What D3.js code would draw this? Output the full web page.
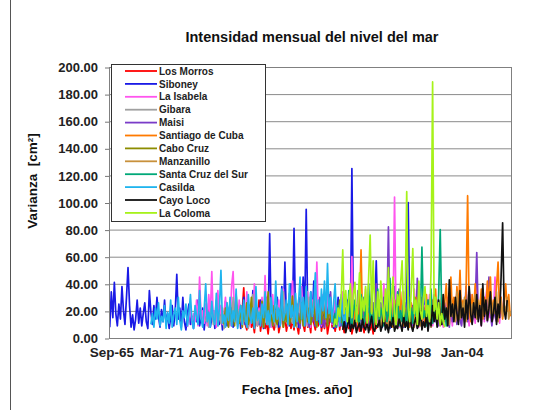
<!DOCTYPE html>
<html>
<head>
<meta charset="utf-8">
<script src="https://cdn.jsdelivr.net/npm/d3@7"></script>
<style>
body{margin:0;background:#fff;}
text{font-family:"Liberation Sans",Arial,sans-serif;}
</style>
</head>
<body>
<div id="chart"></div>
<script>
// series, in Excel drawing order (last one ends up on top)
const seriesNames = ["Los Morros","Siboney","La Isabela","Gibara","Maisi","Santiago de Cuba",
  "Cabo Cruz","Manzanillo","Santa Cruz del Sur","Casilda","Cayo Loco","La Coloma"];
// first month of each series, values every 2 months
const seriesStart = ["1980-01","1965-07","1974-01","1976-01","1986-01","1992-01",
  "1978-01","1995-01","1990-01","1970-01","1991-01","1990-01"];
const STEP = 2;

const losMorros = [
 20, 37, 10, 6, 15, 24, 8, 12, 4, 18, 9, 28,
 5, 14, 22, 7, 11, 3, 16, 30, 9, 6, 13, 20,
 4, 10, 25, 8, 17, 5, 12, 33, 7, 14, 6, 21,
 9, 3, 15, 26, 10, 5, 19, 8, 12, 4, 23, 11,
 6, 16, 9, 29, 5, 13, 7, 18, 3, 10, 22, 8,
 14, 5, 11, 27, 6, 17, 9, 4, 20, 12, 7, 15,
 3, 9, 24, 6, 13, 5, 18, 10, 4, 14, 8, 21,
 6, 11, 3, 16, 7, 12];
const siboney = [
 8, 34, 15, 41, 18, 9, 25, 14, 38,
 20, 10, 30, 52, 24, 8, 17, 6, 14, 28, 11, 22,
 9, 18, 26, 12, 7, 35, 19, 10, 24, 14, 30, 16,
 8, 21, 12, 28, 10, 18, 7, 15, 24, 9, 20, 47,
 14, 22, 8, 30, 12, 6, 18, 25, 10, 16, 7, 20,
 12, 28, 9, 15, 22, 6, 18, 11, 26, 8, 14, 20,
 7, 16, 24, 10, 19, 6, 13, 27, 9, 17, 12, 22,
 8, 15, 26, 11, 20, 7, 14, 30, 10, 18, 9, 24,
 12, 35, 8, 16, 22, 10, 28, 14, 7, 19, 30, 11,
 77, 15, 9, 24, 12, 30, 8, 18, 38, 11, 56, 14,
 22, 9, 40, 16, 81, 12, 25, 8, 30, 14, 45, 18,
 95, 20, 10, 34, 15, 42, 9, 22, 12, 28, 8, 18,
 14, 26, 10, 32, 12, 20, 7, 24, 16, 30, 9, 18,
 12, 22, 8, 28, 15, 10, 125, 18, 9, 24, 14, 20,
 8, 16, 30, 12, 22, 9, 18, 35, 11, 20, 57, 14,
 10, 26, 8, 18, 32, 12, 20, 7, 24, 15, 38, 11,
 18, 9, 28, 14, 22, 8, 30, 100, 16, 10, 24, 12,
 20, 8, 26, 14, 10, 32, 12, 18, 7, 22, 15, 10];
const laIsabela = [
 8, 15, 22, 10, 18, 12, 28, 9, 45, 14, 20, 11,
 25, 9, 32, 16, 49, 12, 20, 8, 35, 15, 24, 10,
 18, 30, 12, 22, 9, 38, 49, 14, 20, 10, 28, 16,
 8, 24, 13, 34, 18, 9, 26, 12, 40, 15, 10, 22,
 14, 30, 9, 46, 17, 11, 25, 8, 32, 14, 20, 12,
 28, 10, 18, 36, 13, 22, 9, 30, 15, 42, 11, 20,
 12, 26, 9, 38, 16, 22, 10, 34, 14, 8, 28, 18,
 11, 56, 14, 24, 9, 32, 18, 12, 40, 15, 22, 10,
 18, 28, 12, 9, 24, 15, 34, 11, 20, 8, 26, 14,
 60, 12, 22, 9, 30, 15, 10, 26, 13, 36, 8, 18,
 14, 28, 10, 20, 32, 9, 16, 24, 11, 40, 13, 18,
 9, 22, 30, 12, 104, 15, 20, 8, 26, 13, 34, 10,
 18, 28, 11, 22, 9, 36, 14, 20, 8, 30, 12, 16,
 24, 10, 18, 32, 12, 9, 22, 15, 28, 10, 20, 13,
 8, 24, 16, 30, 11, 20, 9, 26, 14, 35, 12, 18,
 10, 22, 28, 13, 18, 9, 32, 15, 24, 11, 38, 14,
 20, 9, 26, 12, 30, 40, 15, 22, 10, 18, 45, 13,
 24, 11, 30, 16];
const gibara = [
 12, 20, 8, 16, 24, 10, 14, 28, 9, 18, 11, 22,
 7, 15, 26, 12, 19, 9, 30, 13, 17, 8, 21, 14,
 10, 25, 12, 18, 7, 22, 15, 32, 11, 16, 9, 20,
 13, 27, 8, 17, 23, 10, 14, 29, 12, 19, 8, 24,
 15, 10, 21, 34, 12, 18, 9, 26, 14, 11, 22, 16,
 8, 28, 13, 19, 10, 24, 15, 9, 30, 12, 17, 20];
const maisi = [
 10, 18, 7, 24, 13, 9, 20, 15, 8, 26, 12, 17,
 9, 22, 14, 30, 10, 16, 8, 25, 12, 19, 34, 11,
 15, 8, 20, 12, 27, 9, 17, 13, 22, 8, 30, 14,
 10, 24, 16, 9, 35, 12, 19, 8, 28, 14, 11, 22,
 9, 17, 26, 12, 40, 15, 10, 24, 13, 30, 9, 18,
 82, 14, 22, 10, 28, 16, 9, 36, 12, 20, 8, 26,
 14, 10, 30, 18, 9, 24, 12, 44, 15, 20, 9, 16,
 22, 11, 28, 14, 8, 20, 32, 12, 17, 9, 25, 13,
 10, 26, 15, 20, 8, 34, 12, 18, 24, 10, 30, 14,
 9, 22, 16, 38, 12, 20, 28, 11, 18, 24, 63, 15,
 20, 10, 32, 14, 26, 12, 45, 18, 9, 24, 16, 12];
const santiagoDeCuba = [
 12, 8, 20, 15, 9, 24, 65, 14, 10, 22, 8, 18,
 13, 26, 9, 17, 11, 30, 14, 8, 21, 12, 18, 9,
 24, 11, 16, 8, 28, 13, 20, 10, 34, 15, 9, 22,
 12, 18, 8, 26, 14, 10, 30, 16, 9, 20, 12, 24,
 10, 32, 15, 20, 9, 28, 14, 36, 11, 22, 18, 30,
 12, 26, 40, 15, 24, 45, 18, 30, 13, 38, 20, 50,
 16, 28, 14, 35, 105, 20, 12, 32, 18, 40, 15, 26,
 22, 36, 14, 30, 18, 42, 24, 45, 16, 28, 20, 38,
 56, 18, 30, 14, 26, 40, 20, 32, 16];
const caboCruz = [
 10, 22, 14, 8, 28, 12, 18, 9, 32, 15, 11, 24,
 8, 19, 13, 26, 10, 16, 30, 12, 9, 22, 14, 18,
 11, 27, 8, 20, 15, 34, 12, 17, 9, 24, 13, 10,
 21, 14, 29, 8, 18, 12, 25, 10, 16, 31, 13, 9,
 20, 15, 11, 26, 9, 18, 36, 12, 22, 10, 16, 28,
 13, 8, 24, 17, 11, 30, 14, 20, 9, 26, 12, 18,
 15, 10, 22, 13, 28, 11];
const manzanillo = [
 12, 8, 18, 10, 22, 14, 9, 16, 26, 11, 15, 8,
 20, 13, 10, 24, 12, 17, 9, 28, 14, 11, 19, 8,
 16, 22, 12, 9, 30, 15, 18, 10, 24, 13, 8, 20,
 14, 26, 11, 17, 9, 32, 15, 12, 22, 18, 10, 28,
 16, 24, 12, 34, 20, 14, 26, 18, 30, 12, 22, 38,
 15, 25, 19, 32, 14, 28, 21, 11, 36, 17, 24, 13,
 30, 20, 15, 26, 18, 34, 12, 22, 28, 16, 24, 19,
 30, 14, 20];
const santaCruzDelSur = [
 10, 18, 8, 24, 13, 30, 9, 16, 22, 11, 35, 14,
 8, 20, 28, 12, 17, 9, 32, 15, 10, 24, 13, 40,
 11, 19, 8, 26, 14, 36, 10, 22, 16, 9, 30, 12,
 18, 44, 13, 10, 25, 15, 34, 9, 20, 12, 28, 16,
 9, 38, 14, 22, 11, 30, 17, 10, 26, 13, 67, 15,
 20, 9, 28, 14, 36, 11, 18, 24, 10, 32, 80, 16,
 12, 22, 9, 14];
const casilda = [
 10, 18, 8, 22, 14, 26, 9, 16, 12, 24, 7, 19,
 11, 28, 8, 17, 22, 10, 30, 13, 6, 20, 15, 25,
 9, 18, 32, 12, 7, 24, 16, 10, 35, 14, 8, 21,
 40, 12, 19, 8, 27, 14, 10, 33, 9, 22, 50, 11,
 17, 8, 26, 13, 30, 9, 20, 12, 36, 7, 18, 24,
 10, 28, 14, 8, 32, 16, 11, 22, 7, 38, 13, 19,
 9, 25, 15, 34, 10, 20, 8, 30, 17, 12, 42, 14,
 22, 9, 36, 13, 18, 28, 10, 40, 15, 24, 8, 33,
 12, 26, 45, 14, 30, 9, 38, 18, 11, 34, 16, 24,
 48, 13, 28, 10, 36, 20, 42, 15, 55, 18, 30, 12,
 26, 40, 14, 22, 9, 32, 16, 12, 20, 8];
const cayoLoco = [
 6, 12, 4, 9, 15, 5, 10, 7, 13, 4, 8, 11,
 5, 14, 8, 6, 12, 4, 10, 16, 7, 5, 11, 8,
 13, 5, 9, 18, 6, 10, 4, 12, 8, 15, 5, 9,
 7, 14, 10, 5, 17, 8, 12, 6, 20, 9, 5, 11,
 15, 7, 10, 22, 6, 12, 8, 18, 5, 14, 9, 24,
 12, 20, 8, 28, 15, 10, 32, 14, 22, 9, 43, 16,
 25, 12, 30, 18, 10, 35, 15, 22, 8, 28, 14, 38,
 18, 10, 26, 15, 32, 12, 24, 9, 40, 16, 28, 13,
 22, 34, 12, 18, 30, 10, 25, 15, 45, 85, 20, 14, 28];
const laColoma = [
 8, 14, 10, 22, 16, 30, 65, 18, 35, 12, 28, 40,
 15, 32, 41, 12, 26, 48, 14, 30, 20, 38, 11, 45,
 76, 18, 57, 22, 10, 34, 16, 42, 25, 12, 36, 20,
 52, 14, 28, 45, 18, 10, 32, 24, 40, 57, 16, 30,
 108, 22, 12, 35, 66, 18, 28, 10, 42, 20, 14, 30,
 38, 16, 24, 12, 50, 189, 20, 30, 14, 26, 10, 18, 12, 8];

const seriesValues = [losMorros, siboney, laIsabela, gibara, maisi, santiagoDeCuba,
  caboCruz, manzanillo, santaCruzDelSur, casilda, cayoLoco, laColoma];

const yTicks = [0,20,40,60,80,100,120,140,160,180,200];
const xTickDates = ["1965-09","1971-03","1976-08","1982-02","1987-08","1993-01","1998-07","2004-01"];

const colors = ["#ff0000","#1a1ae6","#ff55ee","#a0a0a0","#7a3cc8","#ff7a00",
  "#8c8c00","#c8913c","#00a878","#1fb4ee","#111111","#a6f21a"];

const WIDTH = 540, HEIGHT = 410;
const PLOT = {LEFT:109, RIGHT:511, TOP:67, BOTTOM:338};
const parseMonth = d3.timeParse("%Y-%m");

const svg = d3.select("#chart").append("svg")
  .attr("width",WIDTH).attr("height",HEIGHT);

svg.append("rect").attr("width",WIDTH).attr("height",HEIGHT).attr("fill","#fff");
svg.append("line")
  .attr("x1",10.5).attr("x2",10.5).attr("y1",0).attr("y2",HEIGHT)
  .attr("stroke","#555").attr("stroke-width",1);

const x = d3.scaleTime()
  .domain([new Date(1965,5,1), new Date(2009,5,1)])
  .range([PLOT.LEFT, PLOT.RIGHT]);
const y = d3.scaleLinear()
  .domain([0,200])
  .range([PLOT.BOTTOM, PLOT.TOP]);

// gridlines
svg.append("g")
  .selectAll("line")
  .data(yTicks)
  .enter().append("line")
  .attr("x1",PLOT.LEFT).attr("x2",PLOT.RIGHT)
  .attr("y1",d=>y(d)+0.5).attr("y2",d=>y(d)+0.5)
  .attr("stroke","#8a8a8a").attr("stroke-width",1);

// y axis
const yAxis = svg.append("g")
  .attr("transform",`translate(${PLOT.LEFT},0.5)`)
  .call(d3.axisLeft(y).tickValues(yTicks).tickFormat(d3.format(".2f")).tickSize(4).tickPadding(7));
yAxis.select(".domain").remove();
yAxis.selectAll("line").attr("stroke","#777");
yAxis.selectAll("text")
  .attr("font-size","13px").attr("font-weight","bold").attr("fill","#222")
  .attr("font-family","'Liberation Sans',Arial,sans-serif");

// x axis labels
const xAxis = svg.append("g")
  .attr("transform",`translate(0,${PLOT.BOTTOM})`)
  .call(d3.axisBottom(x).tickValues(xTickDates.map(parseMonth))
    .tickFormat(d3.timeFormat("%b-%y")).tickSize(0).tickPadding(9));
xAxis.select(".domain").remove();
xAxis.selectAll("text")
  .attr("font-size","13.5px").attr("font-weight","bold").attr("fill","#222")
  .attr("font-family","'Liberation Sans',Arial,sans-serif");

// lines
svg.append("clipPath").attr("id","plotClip")
  .append("rect")
  .attr("x",PLOT.LEFT).attr("y",PLOT.TOP - 2)
  .attr("width",PLOT.RIGHT - PLOT.LEFT).attr("height",PLOT.BOTTOM - PLOT.TOP + 2);

const line = d3.line()
  .x(d=>x(d.date))
  .y(d=>y(d.value));

const lineData = seriesValues.map((vals,s)=>{
  const start = parseMonth(seriesStart[s]);
  return vals.map((v,i)=>({date:d3.timeMonth.offset(start,i*STEP), value:v}));
});

svg.append("g").attr("clip-path","url(#plotClip)")
  .selectAll("path")
  .data(lineData)
  .enter().append("path")
  .attr("d",line)
  .attr("fill","none")
  .attr("stroke",(d,i)=>colors[i])
  .attr("stroke-width",1.7)
  .attr("stroke-linejoin","round");

// plot border
svg.append("rect")
  .attr("x",PLOT.LEFT+0.5).attr("y",PLOT.TOP+0.5)
  .attr("width",PLOT.RIGHT-PLOT.LEFT).attr("height",PLOT.BOTTOM-PLOT.TOP)
  .attr("fill","none").attr("stroke","#808080").attr("stroke-width",1);

// legend
const legend = svg.append("g");
legend.append("rect")
  .attr("x",111.5).attr("y",64.5).attr("width",154).attr("height",157)
  .attr("fill","#fff").attr("stroke","#333").attr("stroke-width",1);
const rows = legend.selectAll("g.row")
  .data(seriesNames)
  .enter().append("g")
  .attr("transform",(d,i)=>`translate(0,${71 + i*12.9})`);
rows.append("line")
  .attr("x1",125).attr("x2",157).attr("y1",0).attr("y2",0)
  .attr("stroke",(d,i)=>colors[i]).attr("stroke-width",1.8);
rows.append("text")
  .attr("x",159).attr("y",3.6)
  .attr("font-size","10px").attr("font-weight","bold").attr("fill","#222")
  .text(d=>d);

// titles
svg.append("text")
  .attr("x",312).attr("y",42)
  .attr("text-anchor","middle")
  .attr("font-size","14.5px").attr("font-weight","bold").attr("fill","#111")
  .text("Intensidad mensual del nivel del mar");

svg.append("text")
  .attr("x",297).attr("y",394)
  .attr("text-anchor","middle")
  .attr("font-size","13.5px").attr("font-weight","bold").attr("fill","#111")
  .text("Fecha [mes. año]");

svg.append("text")
  .attr("transform","translate(37,181) rotate(-90)")
  .attr("text-anchor","middle")
  .attr("font-size","13.5px").attr("font-weight","bold").attr("fill","#111")
  .text("Varianza\u00a0\u00a0[cm²]");
</script>
</body>
</html>
